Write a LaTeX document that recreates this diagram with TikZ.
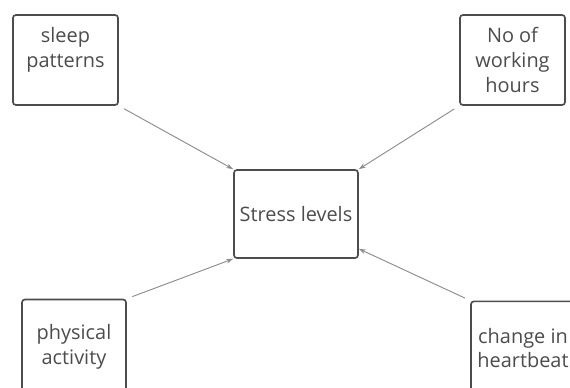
\documentclass[tikz,border=0pt]{standalone}
\usepackage{fontspec}
\setmainfont{Open Sans}
\usetikzlibrary{arrows.meta,positioning}

\begin{document}
\begin{tikzpicture}[x=0.03cm, y=-0.03cm,
    factor/.style={rectangle, draw=black!70, line width=1.4pt, rounded corners=2.5pt, fill=white, text=black!70, align=center, font=\fontsize{17}{21}\selectfont, inner sep=1pt},
    link/.style={-{Stealth[length=6pt,width=4pt]}, draw=black!45, line width=0.8pt}
]

\useasboundingbox (0,0) rectangle (570,387);

% Factors
\node[factor, minimum width=3.15cm, minimum height=2.7cm] (sleep) at (65.5,60) {sleep\\patterns\\~};
\node[factor, minimum width=3.15cm, minimum height=2.7cm] (hours) at (512.5,60) {No of\\working\\hours};
\node[factor, minimum width=3.12cm, minimum height=2.85cm] (activity) at (74,347) {physical\\activity};
\node[factor, minimum width=3.12cm, minimum height=2.8cm] (heartbeat) at (523,348) {change in\\heartbeat};

% Outcome
\node[factor, minimum width=3.72cm, minimum height=2.64cm] (stress) at (296,214) {Stress levels};

% Arrows
\draw[link, shorten <=5pt] (sleep.south east) -- (stress.north west);
\draw[link, shorten <=5pt] (hours.south west) -- (stress.north east);
\draw[link, shorten <=5pt] (activity.north east) -- (stress.south west);
\draw[link, shorten <=5pt] (heartbeat.north west) -- ([yshift=0.3cm]stress.south east);

\end{tikzpicture}
\end{document}
